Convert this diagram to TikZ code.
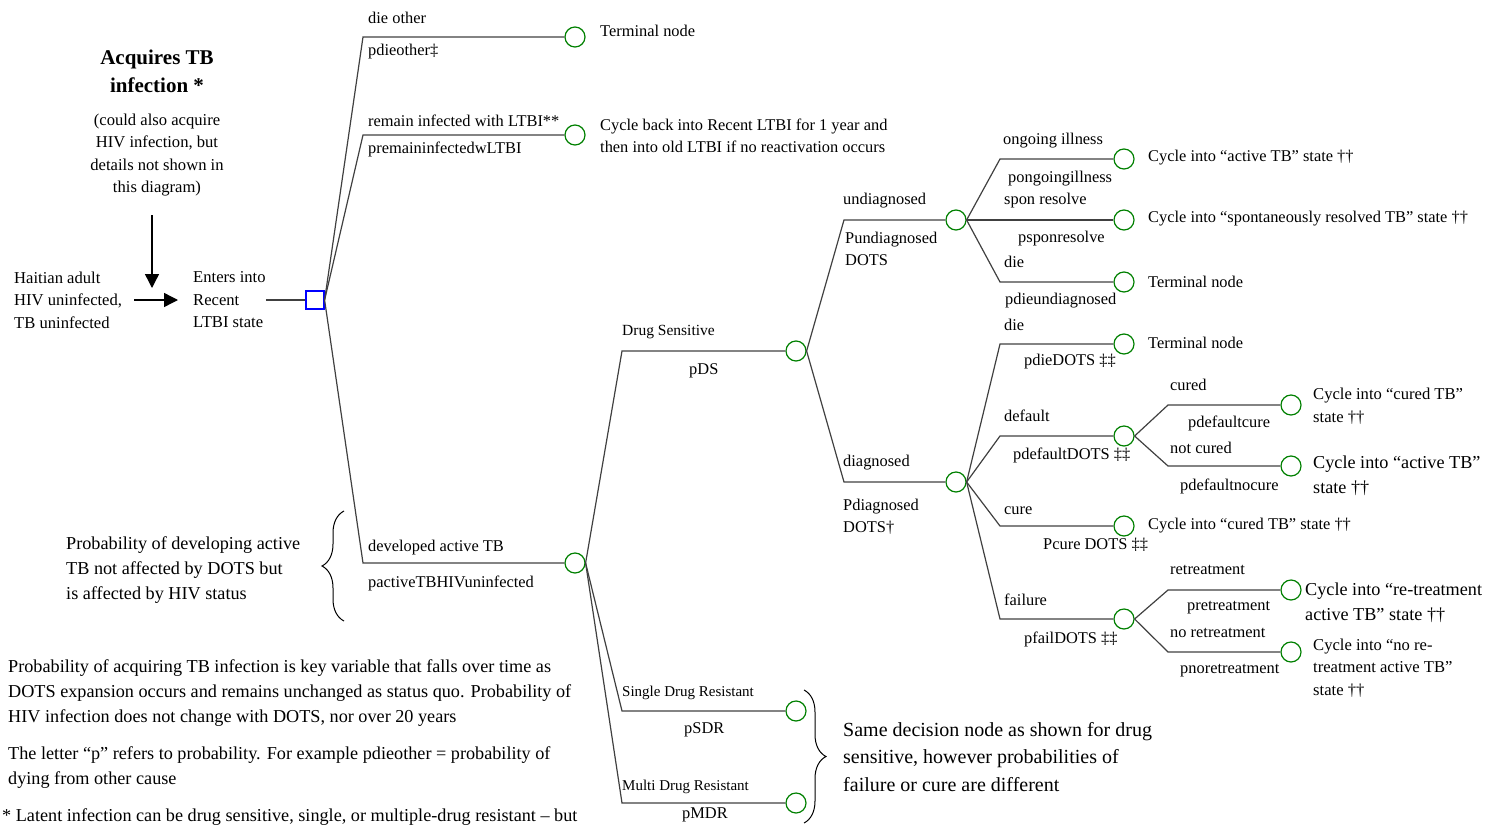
\documentclass[tikz,border=0pt]{standalone}
\usepackage{fontspec}
\setmainfont{Liberation Serif}
\usetikzlibrary{positioning,arrows.meta,decorations.pathreplacing}

\tikzset{
	chance/.style={circle, draw=green!50!black, line width=1.2pt, minimum size=20pt, inner sep=0pt},
	decision/.style={rectangle, draw=blue, line width=1.2pt, minimum size=18pt, inner sep=0pt},
	branch/.style={black!75, line width=1.2pt},
	lbl/.style={inner sep=0pt, anchor=west, align=left, font=\fontsize{16.4}{22.5}\selectfont},
	midlbl/.style={lbl, font=\fontsize{16.6}{22.5}\selectfont},
	biglbl/.style={lbl, font=\fontsize{18.2}{25}\selectfont},
	flow/.style={line width=1.4pt, -{Triangle[length=14pt,width=14pt]}},
	curly/.style={decorate, decoration={brace, amplitude=22pt}, line width=1pt}
}

\begin{document}
\begin{tikzpicture}[x=1pt, y=-1pt]
	\useasboundingbox (0,0) rectangle (1493,827);
	% columns where the branches bend
	\coordinate (k1) at (363,0);
	\coordinate (k2) at (622,0);
	\coordinate (k3) at (844,0);
	\coordinate (k4) at (1000,0);
	\coordinate (k5) at (1168,0);

	% entry into the tree
	\node (acquires) [align=center, font=\bfseries\fontsize{21}{28}\selectfont] at (157,71) {Acquires TB\\infection *};
	\node (could) [midlbl, anchor=center, align=center] at (157,155) {(could also acquire\\HIV infection, but\\details not shown in\\this diagram)};
	\node (haitian) [midlbl] at (14,300) {Haitian adult\\HIV uninfected,\\TB uninfected};
	\node (enters) [midlbl] at (193,300) {Enters into\\Recent\\LTBI state};
	\coordinate (drop) at (152,215);
	\coordinate (droptip) at (152,288);
	\draw[flow] (drop) -- (droptip);
	\draw[flow, shorten <=12pt, shorten >=15pt] (haitian.east) -- (enters.west);

	\node (dec) [decision] at (315,300) {};
	\draw[branch] (enters.east) -- (dec);

	% first level
	\node (dieother) [chance] at (575,37) {};
	\node (remain) [chance] at (575,135) {};
	\node (active) [chance] at (575,563) {};
	\draw[branch] (dec.east) -- (k1 |- dieother) -- (dieother);
	\draw[branch] (dec.east) -- (k1 |- remain) -- (remain);
	\draw[branch] (dec.east) -- (k1 |- active) -- (active);

	\node [lbl] at (368,18) {die other};
	\node [lbl] at (368,52) {pdieother‡};
	\node [lbl] at (368,121) {remain infected with LTBI**};
	\node [lbl] at (368,149) {premaininfectedwLTBI};
	\node [lbl] at (368,548) {developed active TB};
	\node [lbl] at (368,583) {pactiveTBHIVuninfected};
	\node [lbl] at (600,31) {Terminal node};
	\node [lbl] at (600,136) {Cycle back into Recent LTBI for 1 year and\\then into old LTBI if no reactivation occurs};

	% drug resistance
	\node (ds) [chance] at (796,351) {};
	\node (sdr) [chance] at (796,711) {};
	\node (mdr) [chance] at (796,803) {};
	\draw[branch] (active.east) -- (k2 |- ds) -- (ds);
	\draw[branch] (active.east) -- (k2 |- sdr) -- (sdr);
	\draw[branch] (active.east) -- (k2 |- mdr) -- (mdr);

	\node [lbl, font=\fontsize{15.5}{22}\selectfont] at (622,332) {Drug Sensitive};
	\node [lbl] at (689,371) {pDS};
	\node [lbl, font=\fontsize{15}{22}\selectfont] at (622,693) {Single Drug Resistant};
	\node [lbl] at (684,730) {pSDR};
	\node [lbl, font=\fontsize{15}{22}\selectfont] at (622,787) {Multi Drug Resistant};
	\node [lbl] at (682,815) {pMDR};

	% diagnosis
	\node (undiag) [chance] at (956,220) {};
	\node (diag) [chance] at (956,482) {};
	\draw[branch] (ds.east) -- (k3 |- undiag) -- (undiag);
	\draw[branch] (ds.east) -- (k3 |- diag) -- (diag);

	\node [lbl] at (843,201) {undiagnosed};
	\node [lbl] at (845,249) {Pundiagnosed\\DOTS};
	\node [lbl] at (843,463) {diagnosed};
	\node [lbl] at (843,517) {Pdiagnosed\\DOTS†};

	% undiagnosed outcomes
	\node (ongoing) [chance] at (1124,159) {};
	\node (spon) [chance] at (1124,220) {};
	\node (dieu) [chance] at (1124,282) {};
	\draw[branch] (undiag.east) -- (k4 |- ongoing) -- (ongoing);
	\draw[branch] (undiag.east) -- (spon);
	\draw[branch] (undiag.east) -- (k4 |- dieu) -- (dieu);

	\node [lbl] at (1003,141) {ongoing illness};
	\node [lbl] at (1008,179) {pongoingillness};
	\node [lbl] at (1004,201) {spon resolve};
	\node [lbl] at (1018,239) {psponresolve};
	\node [lbl] at (1004,262) {die};
	\node [lbl] at (1005,301) {pdieundiagnosed};
	\node [lbl] at (1148,158) {Cycle into “active TB” state ††};
	\node [lbl] at (1148,219) {Cycle into “spontaneously resolved TB” state ††};
	\node [lbl] at (1148,282) {Terminal node};

	% diagnosed outcomes
	\node (died) [chance] at (1124,344) {};
	\node (default) [chance] at (1124,436) {};
	\node (cure) [chance] at (1124,526) {};
	\node (fail) [chance] at (1124,619) {};
	\draw[branch] (diag.east) -- (k4 |- died) -- (died);
	\draw[branch] (diag.east) -- (k4 |- default) -- (default);
	\draw[branch] (diag.east) -- (k4 |- cure) -- (cure);
	\draw[branch] (diag.east) -- (k4 |- fail) -- (fail);

	\node [lbl] at (1004,325) {die};
	\node [lbl] at (1024,362) {pdieDOTS ‡‡};
	\node [lbl] at (1004,416) {default};
	\node [lbl] at (1013,455) {pdefaultDOTS ‡‡};
	\node [lbl] at (1004,511) {cure};
	\node [lbl] at (1043,545) {Pcure DOTS ‡‡};
	\node [lbl] at (1004,600) {failure};
	\node [lbl] at (1024,639) {pfailDOTS ‡‡};
	\node [lbl] at (1148,343) {Terminal node};
	\node [lbl] at (1148,526) {Cycle into “cured TB” state ††};

	% default and failure outcomes
	\node (cured) [chance] at (1291,405) {};
	\node (notcured) [chance] at (1291,466) {};
	\node (retreat) [chance] at (1291,590) {};
	\node (noretreat) [chance] at (1291,652) {};
	\draw[branch] (default.east) -- (k5 |- cured) -- (cured);
	\draw[branch] (default.east) -- (k5 |- notcured) -- (notcured);
	\draw[branch] (fail.east) -- (k5 |- retreat) -- (retreat);
	\draw[branch] (fail.east) -- (k5 |- noretreat) -- (noretreat);

	\node [lbl] at (1170,385) {cured};
	\node [lbl] at (1188,423) {pdefaultcure};
	\node [lbl] at (1170,448) {not cured};
	\node [lbl] at (1180,486) {pdefaultnocure};
	\node [lbl] at (1170,570) {retreatment};
	\node [lbl] at (1187,608) {pretreatment};
	\node [lbl] at (1170,633) {no retreatment};
	\node [lbl] at (1180,671) {pnoretreatment};
	\node [midlbl] at (1313,406) {Cycle into “cured TB”\\state ††};
	\node [biglbl] at (1313,476) {Cycle into “active TB”\\state ††};
	\node [biglbl] at (1305,603) {Cycle into “re-treatment\\active TB” state ††};
	\node [midlbl] at (1313,668) {Cycle into “no re-\\treatment active TB”\\state ††};

	% braces and notes
	\draw[curly] (344,621) -- (344,511);
	\node [biglbl] at (66,570) {Probability of developing active\\TB not affected by DOTS but\\is affected by HIV status};
	\draw[curly] (804,690) -- (804,823);
	\node [lbl, font=\fontsize{20}{27.5}\selectfont] at (843,757) {Same decision node as shown for drug\\sensitive, however probabilities of\\failure or cure are different};

	\node [biglbl] at (8,693) {Probability of acquiring TB infection is key variable that falls over time as\\DOTS expansion occurs and remains unchanged as status quo. Probability of\\HIV infection does not change with DOTS, nor over 20 years};
	\node [biglbl] at (8,768) {The letter “p” refers to probability. For example pdieother = probability of\\dying from other cause};
	\node [biglbl] at (2,817) {* Latent infection can be drug sensitive, single, or multiple-drug resistant – but};
\end{tikzpicture}
\end{document}
